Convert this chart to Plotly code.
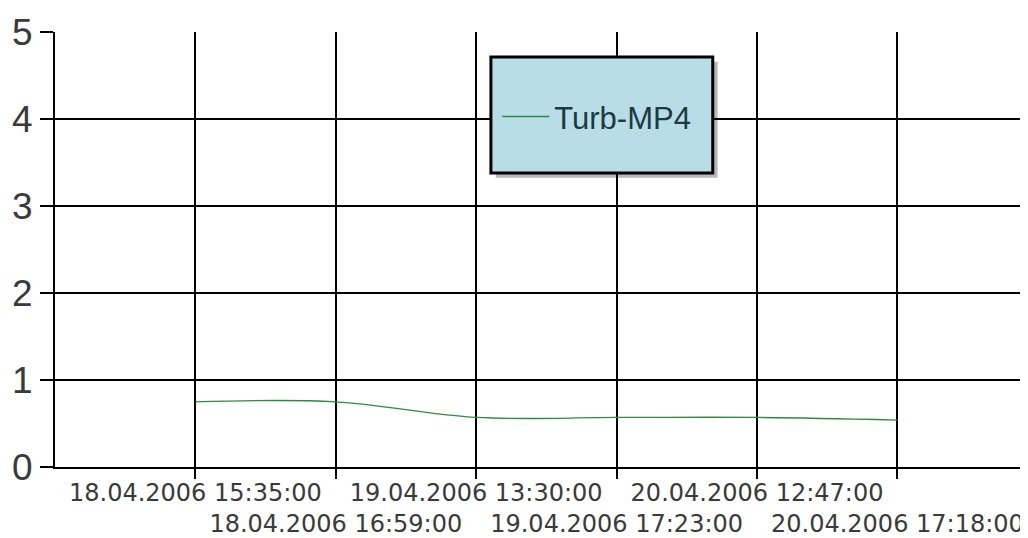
import plotly.graph_objects as go

categories = [
    "18.04.2006 15:35:00",
    "18.04.2006 16:59:00",
    "19.04.2006 13:30:00",
    "19.04.2006 17:23:00",
    "20.04.2006 12:47:00",
    "20.04.2006 17:18:00",
]
turb_mp4 = [0.75, 0.75, 0.57, 0.57, 0.57, 0.54]
y_ticks = [0, 1, 2, 3, 4, 5]

# alternate tick labels on two rows
tick_text = [c if i % 2 == 0 else " <br>" + c for i, c in enumerate(categories)]

fig = go.Figure()
fig.add_trace(go.Scatter(
    x=categories, y=turb_mp4, mode="lines", name="Turb-MP4",
    line=dict(color="#2e8b3e", width=1.3, shape="spline", smoothing=1),
))

# legend box with shadow
bx0, bx1, by0, by1 = 0.448, 0.676, 0.676, 0.9425
fig.add_shape(type="rect", xref="paper", yref="paper",
              x0=bx0 + 0.005, x1=bx1 + 0.005, y0=by0 - 0.011, y1=by1 - 0.011,
              fillcolor="rgba(0,0,0,0.28)", line=dict(width=0), layer="above")
fig.add_shape(type="rect", xref="paper", yref="paper",
              x0=bx0, x1=bx1, y0=by0, y1=by1,
              fillcolor="#b9dde7", line=dict(color="black", width=3), layer="above")

fig.update_layout(
    width=1020, height=530,
    margin=dict(l=47, r=0, t=24, b=71),
    paper_bgcolor="white", plot_bgcolor="white",
    font=dict(family="Liberation Sans, Arial, sans-serif", color="#3a3a3a"),
    showlegend=True,
    legend=dict(x=0.4545, y=0.805, xanchor="left", yanchor="middle",
                itemwidth=47,
                bgcolor="rgba(0,0,0,0)", borderwidth=0,
                font=dict(size=31, color="#1c3a42", family="Liberation Sans, Arial, sans-serif")),
    xaxis=dict(
        type="category", categoryorder="array", categoryarray=categories,
        range=[-1, 5.93], automargin=False,
        tickmode="array", tickvals=categories, ticktext=tick_text,
        tickangle=0, ticklabelstandoff=-7,
        showgrid=True, gridcolor="black", gridwidth=2,
        showline=True, linecolor="black", linewidth=2,
        ticks="outside", ticklen=10, tickcolor="black", tickwidth=2,
        tickfont=dict(size=24, family="DejaVu Sans, sans-serif", color="#3a3a3a"),
        zeroline=False, fixedrange=True,
    ),
    yaxis=dict(
        range=[0, 5.004], tickmode="array", tickvals=y_ticks, automargin=False,
        showgrid=True, gridcolor="black", gridwidth=2,
        showline=True, linecolor="black", linewidth=2,
        ticks="outside", ticklen=13, tickcolor="black", tickwidth=2,
        tickfont=dict(size=37, color="#3a3a3a"),
        zeroline=False, fixedrange=True,
    ),
)

fig.write_html("out.html")
